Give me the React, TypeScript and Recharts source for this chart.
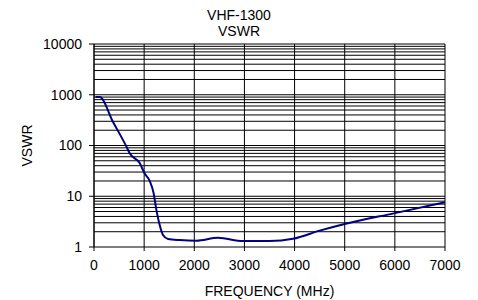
import React from 'react'
import {
  LineChart, Line, XAxis, YAxis, CartesianGrid, ReferenceLine, Label,
} from 'recharts'

const freqMHz = [30, 113, 380, 647, 712, 911, 1011, 1111, 1190, 1244, 1310, 1376, 1476, 1709, 2042, 2475, 2972, 3500, 3969, 4500, 5000, 6000, 7000]
const vswr = [900, 900, 290, 95, 70, 45, 28, 20, 11.4, 5.4, 2.7, 1.72, 1.44, 1.37, 1.33, 1.52, 1.31, 1.31, 1.45, 2.1, 2.84, 4.65, 7.6]

const xTicks = [0, 1000, 2000, 3000, 4000, 5000, 6000, 7000]
const yTicks = [1, 10, 100, 1000, 10000]
const yGrid = [1, 10, 100, 1000].flatMap(d => [2, 3, 4, 5, 6, 7, 8, 9, 10].map(m => m * d))

const font = 'Arial, "Liberation Sans", sans-serif'

export default function App() {
  const data = freqMHz.map((f, i) => ({ f, v: vswr[i] }))

  return (
    <div style={{ position: 'absolute', left: 0, top: 0, width: 478, height: 300, fontFamily: font, background: '#fff' }}>
      <div style={{ position: 'absolute', left: 0, top: 7, width: 478, textAlign: 'center', fontSize: 14, lineHeight: '16px', color: '#000' }}>
        VHF-1300<br />VSWR
      </div>
      <LineChart width={478} height={300} data={data} margin={{ top: 44, right: 33, left: 0, bottom: 0 }}>
        <CartesianGrid horizontal={false} stroke="#000" strokeOpacity={1} />
        {yGrid.map(v => (
          <ReferenceLine key={v} y={v} stroke="#000" strokeWidth={1} ifOverflow="visible" />
        ))}
        <XAxis
          dataKey="f"
          type="number"
          domain={[0, 7000]}
          ticks={xTicks}
          height={53}
          tickSize={4}
          tickMargin={9}
          axisLine={{ stroke: '#000' }}
          tickLine={{ stroke: '#000' }}
          tick={{ fontSize: 14, fill: '#000', fontFamily: font }}
        >
          <Label value="FREQUENCY (MHz)" position="insideBottom" offset={4} style={{ fontSize: 14, fill: '#000', fontFamily: font }} />
        </XAxis>
        <YAxis
          scale="log"
          domain={[1, 10000]}
          ticks={yTicks}
          allowDataOverflow
          width={94}
          tickSize={5}
          tickMargin={7}
          axisLine={{ stroke: '#000' }}
          tickLine={{ stroke: '#000' }}
          tick={{ fontSize: 14, fill: '#000', fontFamily: font }}
        >
          <Label value="VSWR" angle={-90} position="insideLeft" offset={27} style={{ fontSize: 14, fill: '#000', fontFamily: font, textAnchor: 'middle' }} />
        </YAxis>
        <Line
          type="monotone"
          dataKey="v"
          stroke="#000080"
          strokeWidth={2}
          dot={false}
          isAnimationActive={false}
        />
      </LineChart>
    </div>
  )
}
